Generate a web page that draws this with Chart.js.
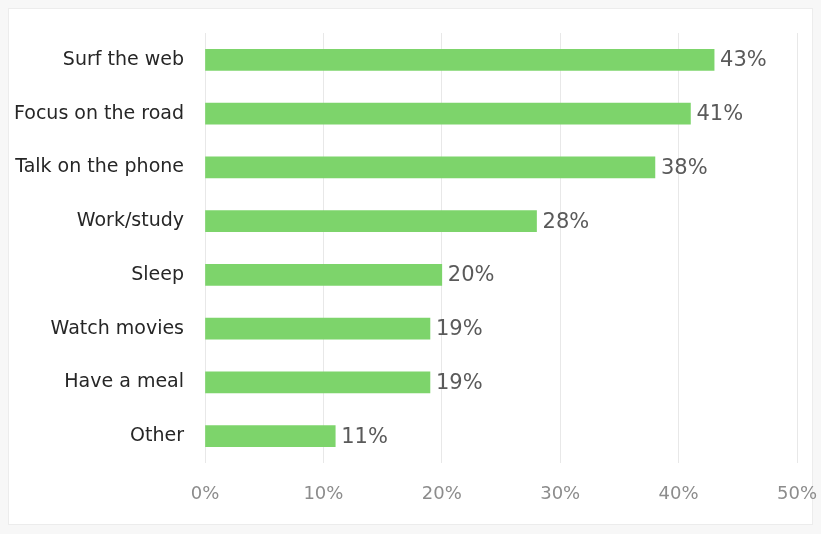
<!DOCTYPE html>
<html>
<head>
<meta charset="utf-8">
<script src="https://cdn.jsdelivr.net/npm/chart.js@4"></script>
<style>
  html, body { margin: 0; padding: 0; background: #f7f7f7; }
  .frame {
    position: absolute; left: 8px; top: 8px; width: 805px; height: 517px;
    background: #fff; border: 1px solid #ececec; box-sizing: border-box;
  }
  #chart { position: absolute; left: 0; top: 0; }
</style>
</head>
<body>
<div class="frame"></div>
<canvas id="chart" width="821" height="534"></canvas>
<script>
const categories = [
  "Surf the web", "Focus on the road", "Talk on the phone", "Work/study",
  "Sleep", "Watch movies", "Have a meal", "Other"
];
const shares = [43, 41, 38, 28, 20, 19, 19, 11];
const tickValues = [0, 10, 20, 30, 40, 50];

const FONT = "'DejaVu Sans', sans-serif";

// writes the percentage just past the end of each bar
const valueLabels = {
  id: "valueLabels",
  afterDatasetsDraw(chart) {
    const c = chart.ctx;
    const meta = chart.getDatasetMeta(0);
    c.save();
    c.font = "21px " + FONT;
    c.fillStyle = "#5a5a5a";
    c.textAlign = "left";
    c.textBaseline = "middle";
    meta.data.forEach((bar, i) => {
      c.fillText(shares[i] + "%", bar.x + 6, bar.y + 1);
    });
    c.restore();
  }
};

const ctx = document.getElementById("chart").getContext("2d");
new Chart(ctx, {
  type: "bar",
  data: {
    labels: categories,
    datasets: [{
      data: shares,
      backgroundColor: "#7dd46b",
      barThickness: 21
    }]
  },
  options: {
    indexAxis: "y",
    responsive: false,
    animation: false,
    layout: { padding: { top: 33, right: 24, bottom: 0, left: 0 } },
    plugins: { legend: { display: false }, tooltip: { enabled: false } },
    scales: {
      x: {
        min: 0,
        max: 50,
        afterBuildTicks(scale) {
          scale.ticks = tickValues.map(v => ({ value: v }));
        },
        afterFit(scale) {
          scale.height = 71;
          // let the end labels overhang instead of shrinking the plot
          scale.paddingLeft = 0;
          scale.paddingRight = 0;
        },
        border: { display: false },
        grid: { color: "#e8e8e8", drawTicks: false },
        ticks: {
          padding: 21,
          color: "#8c8c8c",
          font: { family: FONT, size: 18 },
          callback: v => v + "%"
        }
      },
      y: {
        afterFit(scale) { scale.width = 205; },
        border: { display: false },
        grid: { display: false, drawTicks: false },
        ticks: {
          padding: 21,
          color: "#262626",
          font: { family: FONT, size: 19 }
        }
      }
    }
  },
  plugins: [valueLabels]
});
</script>
</body>
</html>
